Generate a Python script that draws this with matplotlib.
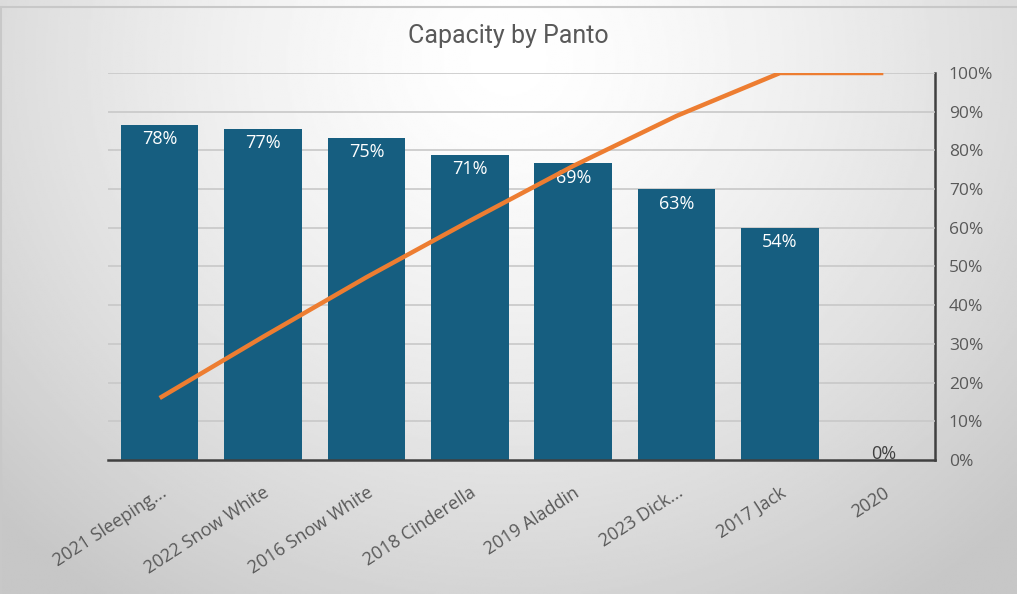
import matplotlib.pyplot as plt
import numpy as np
from matplotlib.ticker import PercentFormatter

# chart data
pantos = ["2021 Sleeping...", "2022 Snow White", "2016 Snow White", "2018 Cinderella",
          "2019 Aladdin", "2023 Dick...", "2017 Jack", "2020"]
capacity = [78, 77, 75, 71, 69, 63, 54, 0]
cumulative = np.cumsum(capacity) / np.sum(capacity) * 100

plt.rcParams['font.family'] = ['Open Sans', 'DejaVu Sans']

fig = plt.figure(figsize=(10.17, 5.94), dpi=100)

# grey gradient background
bg = fig.add_axes([0, 0, 1, 1], zorder=-10)
yy, xx = np.mgrid[0:1:300j, 0:1:500j]
r = np.sqrt(((xx - 0.5) / 0.7) ** 2 + ((yy - 0.1) / 1.1) ** 2)
shade = 1.0 - 0.22 * np.clip(r, 0, 1.0) ** 1.4
bg.imshow(shade, cmap='gray', vmin=0, vmax=1, aspect='auto', extent=[0, 1, 1, 0])
bg.plot([0, 1], [0.012, 0.012], color='#c8c8c8', lw=1.5)
bg.plot([0.001, 0.001], [0.012, 1], color='#c8c8c8', lw=1.5)
bg.set_xlim(0, 1)
bg.set_ylim(1, 0)
bg.axis('off')

ax = fig.add_axes([0.1062, 0.2256, 0.8132, 0.6515])
ax.patch.set_alpha(0)
x = np.arange(len(pantos))
bars = ax.bar(x, capacity, width=0.75, color='#165e80', zorder=3)
ax.set_ylim(0, 90)
ax.set_xlim(-0.5, len(pantos) - 0.5)
ax.set_yticks([])
for s in ['left', 'top', 'right']:
    ax.spines[s].set_visible(False)
ax.spines['bottom'].set_color('#404040')
ax.spines['bottom'].set_linewidth(1.8)
ax.spines['bottom'].set_zorder(5)

for xi, v in zip(x, capacity):
    if v > 0:
        ax.text(xi, v - 1.3, f"{v}%", ha='center', va='top', color='white', fontsize=13, zorder=4)
    else:
        ax.text(xi, -0.6, f"{v}%", ha='center', va='bottom', color='#404040', fontsize=13, zorder=4)

ax.set_xticks(x)
ax.set_xticklabels(pantos, rotation=33, ha='right', rotation_mode='anchor',
                   fontsize=13, color='#595959')
ax.tick_params(axis='x', length=0, pad=17)

# line on a 0-100% secondary scale
ax2 = ax.twinx()
ax2.set_ylim(0, 100)
ax2.set_yticks(np.arange(0, 101, 10))
ax2.yaxis.set_major_formatter(PercentFormatter(decimals=0))
ax2.tick_params(axis='y', length=0, pad=10, labelsize=12.5, labelcolor='#595959')
for s in ['left', 'top', 'bottom']:
    ax2.spines[s].set_visible(False)
ax2.spines['right'].set_color('#404040')
ax2.spines['right'].set_linewidth(1.8)
ax2.patch.set_alpha(0)
ax.set_zorder(ax2.get_zorder() + 1)

# gridlines under the bars, cumulative line on top (scaled to the bar axis)
for g in np.arange(10, 101, 10):
    ax.axhline(g * 0.9, color='#c8c8c8', lw=1.2, zorder=0)
ax.plot(x, cumulative * 0.9, color='#ed7d31', lw=3.2, zorder=6, solid_capstyle='butt')

fig.text(0.5, 0.94, "Capacity by Panto", ha='center', va='center', fontsize=18,
         color='#595959', family=['Roboto', 'DejaVu Sans'])

fig.savefig("out.png", dpi=100)
